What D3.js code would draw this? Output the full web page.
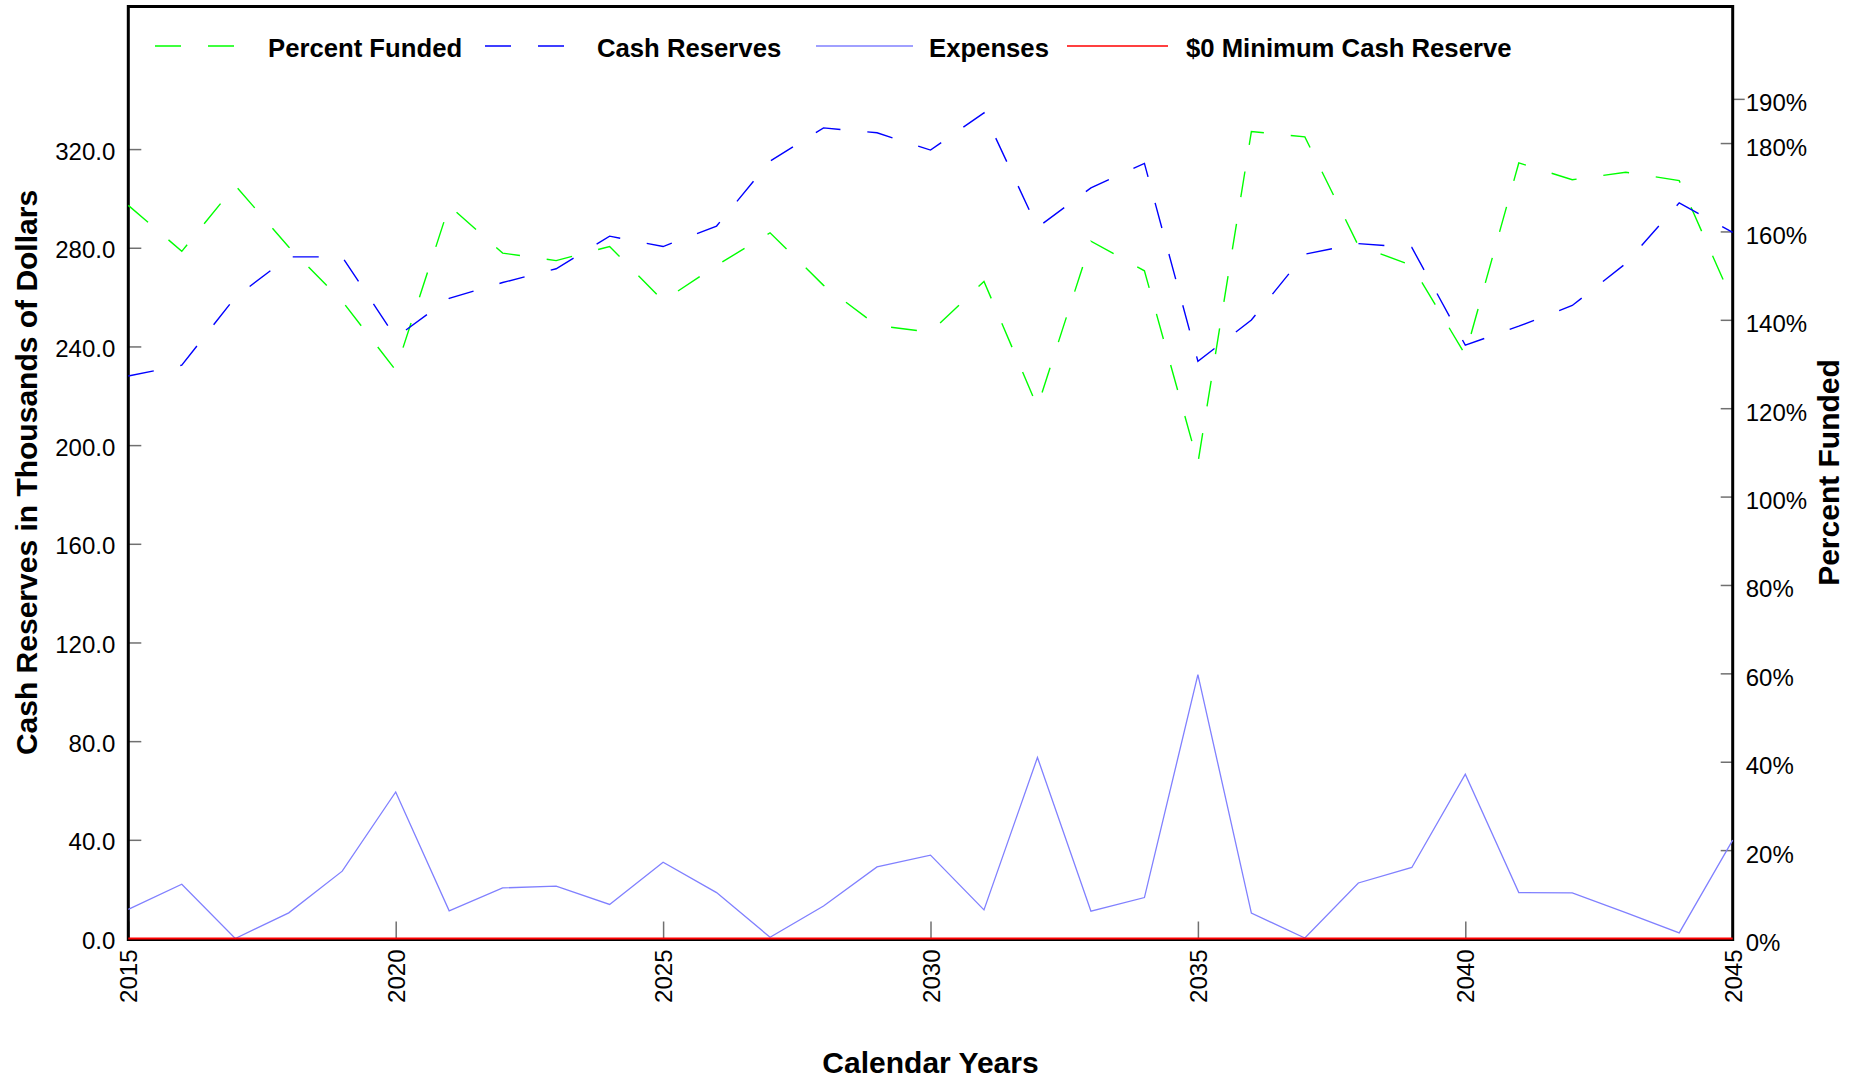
<!DOCTYPE html>
<html>
<head>
<meta charset="utf-8">
<script src="https://cdn.jsdelivr.net/npm/d3@7"></script>
<style>
  html, body { margin: 0; padding: 0; background: #fff; }
  svg { display: block; font-family: "Liberation Sans", Arial, sans-serif; }
</style>
</head>
<body>
<svg id="chart" width="1860" height="1081"></svg>
<script>
// ---------------- DATA ----------------
const years = [2015, 2016, 2017, 2018, 2019, 2020, 2021, 2022, 2023, 2024, 2025,
               2026, 2027, 2028, 2029, 2030, 2031, 2032, 2033, 2034, 2035,
               2036, 2037, 2038, 2039, 2040, 2041, 2042, 2043, 2044, 2045];

// Percent Funded (%), right axis
const percentFunded = [165.9, 155.5, 170.4, 156.5, 144.2, 128.6, 165.8, 155.1, 153.4, 156.6, 144.3,
                       152.3, 159.7, 147.8, 138.7, 137.2, 148.7, 120.3, 157.8, 151.1, 107.6,
                       182.6, 181.4, 156.8, 152.3, 132.1, 175.5, 171.7, 173.4, 171.5, 144.2];

// Cash Reserves (thousands of dollars), left axis
const cashReserves = [228.0, 232.4, 259.9, 276.3, 276.3, 243.6, 259.5, 265.9, 271.5, 284.7, 280.5,
                      288.8, 315.1, 328.6, 326.6, 319.6, 334.7, 288.2, 304.3, 314.2, 234.0,
                      250.7, 277.4, 281.7, 280.1, 240.5, 248.2, 256.6, 273.6, 298.2, 286.2];

// Expenses (thousands of dollars), left axis
const expenses = [11.8, 22.0, 0.0, 10.4, 27.3, 59.4, 11.2, 20.5, 21.2, 13.8, 30.9,
                  18.6, 0.5, 13.2, 29.0, 33.8, 11.6, 73.4, 11.1, 16.6, 107.0,
                  10.3, 0.2, 22.5, 28.8, 66.6, 18.6, 18.5, 10.5, 2.3, 39.9];

// $0 Minimum Cash Reserve
const minCashReserve = [0, 0, 0, 0, 0, 0, 0, 0, 0, 0, 0, 0, 0, 0, 0, 0,
                        0, 0, 0, 0, 0, 0, 0, 0, 0, 0, 0, 0, 0, 0, 0];

const leftTicks = [0, 40, 80, 120, 160, 200, 240, 280, 320];
const rightTicks = [0, 20, 40, 60, 80, 100, 120, 140, 160, 180, 190];
const xTicks = [2015, 2020, 2025, 2030, 2035, 2040, 2045];

const leftMax = 377.8;
const rightMax = 210.9;

const legendItems = [
  { label: "Percent Funded", color: "#00ff00", dash: "26,27", x1: 155, x2: 237, tx: 268 },
  { label: "Cash Reserves", color: "#0000ff", dash: "26,27", x1: 485, x2: 565, tx: 597 },
  { label: "Expenses", color: "#8080ff", dash: null, x1: 816, x2: 913, tx: 929 },
  { label: "$0 Minimum Cash Reserve", color: "#ff0000", dash: null, x1: 1067, x2: 1168, tx: 1186 }
];

// ---------------- LAYOUT ----------------
const L = 128.3, R = 1732.7, T = 6.5, B = 938.5;
const svg = d3.select("#chart");

const x = d3.scaleLinear().domain([2015, 2045]).range([L, R]);
const yL = d3.scaleLinear().domain([0, leftMax]).range([B, T]);
const yR = d3.scaleLinear().domain([0, rightMax]).range([B, T]);

const tickColor = "#707070";
const font = "\"Liberation Sans\", Arial, sans-serif";

// Left axis
const gL = svg.append("g").attr("transform", `translate(${L},0)`)
  .call(d3.axisLeft(yL).tickValues(leftTicks).tickSize(-13).tickPadding(13).tickFormat(d3.format(".1f")));
gL.select(".domain").remove();
gL.selectAll(".tick line").attr("stroke", tickColor).attr("stroke-width", 1.5);
gL.selectAll(".tick text").attr("fill", "#000").style("font-size", "24px").style("font-family", font).attr("dy", "0.42em");

// Right axis
const gR = svg.append("g").attr("transform", `translate(${R},0)`)
  .call(d3.axisRight(yR).tickValues(rightTicks).tickSize(-12).tickPadding(13).tickFormat(d => d + "%"));
gR.select(".domain").remove();
gR.selectAll(".tick line").attr("stroke", tickColor).attr("stroke-width", 1.5)
  .attr("x2", d => d === 190 ? 12 : -12);
gR.selectAll(".tick text").attr("fill", "#000").style("font-size", "24px").style("font-family", font).attr("dy", "0.5em");

// Bottom axis
const gB = svg.append("g").attr("transform", `translate(0,${B})`)
  .call(d3.axisBottom(x).tickValues(xTicks).tickSize(-17).tickFormat(d3.format("d")));
gB.select(".domain").remove();
gB.selectAll(".tick line").attr("stroke", tickColor).attr("stroke-width", 1.5);
gB.selectAll(".tick text")
  .attr("fill", "#000")
  .style("font-size", "24px").style("font-family", font)
  .attr("transform", "rotate(-90)")
  .attr("x", -11).attr("y", 0).attr("dy", "0.36em")
  .style("text-anchor", "end");

// Frame
svg.append("rect")
  .attr("x", L).attr("y", T).attr("width", R - L).attr("height", B - T + 1)
  .attr("fill", "none").attr("stroke", "#000").attr("stroke-width", 3);

// Lines
const lineL = vals => d3.line().x((d, i) => x(years[i])).y(d => yL(d))(vals);
const lineR = vals => d3.line().x((d, i) => x(years[i])).y(d => yR(d))(vals);

svg.append("path").attr("d", lineL(expenses))
  .attr("fill", "none").attr("stroke", "#8080ff").attr("stroke-width", 1.3);

svg.append("path").attr("d", lineR(percentFunded))
  .attr("fill", "none").attr("stroke", "#00ff00").attr("stroke-width", 1.4)
  .attr("stroke-dasharray", "26,27");

svg.append("path").attr("d", lineL(cashReserves))
  .attr("fill", "none").attr("stroke", "#0000ff").attr("stroke-width", 1.4)
  .attr("stroke-dasharray", "26,27");

svg.append("path").attr("d", lineL(minCashReserve))
  .attr("fill", "none").attr("stroke", "#ff0000").attr("stroke-width", 2.2);

// Legend
const lg = svg.append("g");
legendItems.forEach(it => {
  lg.append("line").attr("x1", it.x1).attr("x2", it.x2).attr("y1", 46).attr("y2", 46)
    .attr("stroke", it.color).attr("stroke-width", 1.4)
    .attr("stroke-dasharray", it.dash);
  lg.append("text").attr("x", it.tx).attr("y", 56.5).text(it.label)
    .style("font-size", "25.7px").style("font-weight", "bold").style("font-family", font);
});

// Axis titles
svg.append("text")
  .attr("transform", `translate(37,${(T + B) / 2}) rotate(-90)`)
  .attr("text-anchor", "middle")
  .style("font-size", "30px").style("font-weight", "bold").style("font-family", font)
  .text("Cash Reserves in Thousands of Dollars");

svg.append("text")
  .attr("transform", `translate(1839,${(T + B) / 2}) rotate(-90)`)
  .attr("text-anchor", "middle")
  .style("font-size", "30px").style("font-weight", "bold").style("font-family", font)
  .text("Percent Funded");

svg.append("text")
  .attr("x", (L + R) / 2).attr("y", 1073)
  .attr("text-anchor", "middle")
  .style("font-size", "30px").style("font-weight", "bold").style("font-family", font)
  .text("Calendar Years");
</script>
</body>
</html>
